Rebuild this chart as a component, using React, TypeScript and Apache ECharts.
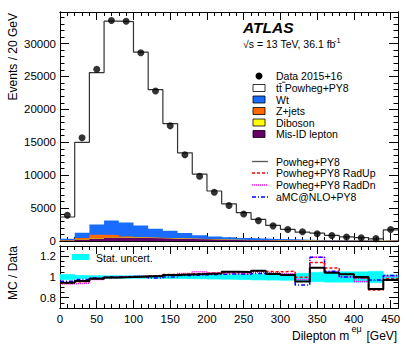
import React, { useEffect, useRef } from "react";
import * as echarts from "echarts";

// ---------- data ----------
const binEdges = [0, 20, 40, 60, 80, 100, 120, 140, 160, 180, 200, 220, 240, 260, 280, 300, 320, 340, 360, 380, 400, 420, 440, 460];
const binCenters = [10, 30, 50, 70, 90, 110, 130, 150, 170, 190, 210, 230, 250, 270, 290, 310, 330, 350, 370, 390, 410, 430, 450];
const dataValues = [3900, 15700, 26100, 33500, 33400, 28600, 22800, 17500, 13100, 9850, 7400, 5400, 4100, 3100, 2300, 1740, 1400, 1100, 830, 620, 500, 360, 1740];
const mcTotal = [3650, 15000, 25600, 33400, 33350, 28700, 23000, 17850, 13400, 10150, 7600, 5650, 4300, 3280, 2370, 1770, 1340, 1200, 860, 640, 500, 320, 1690];
const wtValues = [190, 820, 1540, 2170, 2140, 1800, 1375, 1130, 835, 575, 455, 362, 289, 255, 198, 172, 135, 118, 100, 86, 73, 59, 92];
const zjetsValues = [60, 200, 550, 380, 120, 60, 40, 30, 20, 15, 10, 8, 6, 5, 4, 3, 3, 2, 2, 2, 1, 1, 3];
const dibosonValues = [20, 40, 60, 70, 70, 60, 55, 50, 45, 40, 35, 30, 25, 20, 18, 15, 12, 10, 8, 7, 6, 5, 15];
const misIdValues = [80, 200, 350, 480, 500, 450, 400, 350, 300, 250, 200, 160, 130, 100, 80, 60, 50, 40, 30, 25, 20, 15, 40];

const ratioNominal = [0.945, 0.962, 0.982, 0.996, 1.0, 1.005, 1.01, 1.02, 1.025, 1.03, 1.035, 1.05, 1.048, 1.06, 1.03, 1.02, 0.956, 1.09, 1.04, 1.026, 1.0, 0.885, 0.97];
const ratioRadUp = [0.94, 0.955, 0.985, 0.995, 1.0, 1.005, 1.012, 1.025, 1.03, 1.035, 1.04, 1.045, 1.04, 1.055, 1.05, 1.055, 0.997, 1.14, 1.087, 1.03, 0.99, 0.875, 0.985];
const ratioRadDn = [0.935, 0.94, 0.975, 0.99, 1.0, 1.01, 1.015, 1.02, 1.035, 1.05, 1.04, 1.035, 1.03, 1.045, 1.04, 1.03, 0.975, 1.19, 1.05, 1.0, 0.956, 0.965, 1.01];
const ratioAmc = [0.96, 0.975, 0.99, 1.0, 1.005, 1.0, 0.99, 1.0, 1.015, 1.02, 1.025, 1.03, 1.025, 1.035, 1.03, 1.02, 0.923, 1.19, 1.055, 1.0, 0.99, 0.97, 1.015];
const statUnc = [0.025, 0.015, 0.013, 0.012, 0.012, 0.012, 0.013, 0.014, 0.015, 0.017, 0.02, 0.022, 0.025, 0.028, 0.03, 0.032, 0.036, 0.045, 0.05, 0.05, 0.05, 0.055, 0.02];

const ratioTickValues = [0.8, 1, 1.2];

// ---------- styling ----------
const FONT = "'Liberation Sans', Arial, Helvetica, sans-serif";
const C_WT = "#1a6cff";
const C_Z = "#ff6a00";
const C_DIB = "#ffff00";
const C_MIS = "#660066";
const C_STAT = "#00ffff";

function stepData(vals: number[]) {
  const pts = vals.map((v, i) => [binEdges[i], v]);
  pts.push([binEdges[vals.length], vals[vals.length - 1]]);
  return pts;
}
function addArrays(...arrs: number[][]) {
  return arrs[0].map((_, i) => arrs.reduce((s, a) => s + a[i], 0));
}

function xAx(gridIndex: number, position: string, interval: number, len: number, labels: boolean) {
  return {
    type: "value", gridIndex, position, min: 0, max: 460, interval,
    axisLine: { show: true, onZero: false, lineStyle: { color: "#000", width: 1 } },
    axisTick: { show: true, inside: true, length: len, lineStyle: { color: "#000", width: 1 } },
    axisLabel: { show: labels, color: "#000", fontFamily: FONT, fontSize: 11.5, margin: 5, showMaxLabel: false, formatter: (v: number) => String(v) },
    splitLine: { show: false },
  };
}
function yAx(gridIndex: number, position: string, min: number, max: number, interval: number, len: number, labels: boolean, extra: any = {}) {
  return {
    type: "value", gridIndex, position, min, max, interval,
    axisLine: { show: true, onZero: false, lineStyle: { color: "#000", width: 1 } },
    axisTick: { show: true, inside: true, length: len, lineStyle: { color: "#000", width: 1 }, ...(extra.axisTick || {}) },
    axisLabel: { show: labels, color: "#000", fontFamily: FONT, fontSize: 11.5, margin: 4, showMaxLabel: false, formatter: (v: number) => String(v), ...(extra.axisLabel || {}) },
    splitLine: { show: false },
  };
}

function stepLine(name: string, vals: number[], xi: number, yi: number, color: string, width: number, type: any, z = 3) {
  return {
    name, type: "line", xAxisIndex: xi, yAxisIndex: yi, step: "end", data: stepData(vals),
    symbol: "none", lineStyle: { color, width, type }, z, silent: true,
  };
}
function stepArea(name: string, vals: number[], color: string, z: number) {
  return {
    name, type: "line", xAxisIndex: 0, yAxisIndex: 0, step: "end", data: stepData(vals),
    symbol: "none", lineStyle: { width: 0, color }, areaStyle: { color, opacity: 1 }, z, silent: true,
  };
}

export default function App() {
  const ref = useRef<HTMLDivElement>(null);
  useEffect(() => {
    if (!ref.current) return;
    const chart = echarts.init(ref.current, undefined, { renderer: "svg" });

    const cumMis = misIdValues;
    const cumDib = addArrays(misIdValues, dibosonValues);
    const cumZ = addArrays(misIdValues, dibosonValues, zjetsValues);
    const cumWt = addArrays(misIdValues, dibosonValues, zjetsValues, wtValues);

    const legendRows = [
      { label: "Data 2015+16", kind: "dot", y: 76 },
      { label: "tt\u0304 Powheg+PY8", kind: "box", color: "#ffffff", y: 88 },
      { label: "Wt", kind: "box", color: C_WT, y: 99.5 },
      { label: "Z+jets", kind: "box", color: C_Z, y: 111 },
      { label: "Diboson", kind: "box", color: C_DIB, y: 122.5 },
      { label: "Mis-ID lepton", kind: "box", color: C_MIS, y: 134 },
      { label: "Powheg+PY8", kind: "line", color: "#555", dash: null, y: 161.5 },
      { label: "Powheg+PY8 RadUp", kind: "line", color: "#ff0000", dash: [3, 2], y: 173 },
      { label: "Powheg+PY8 RadDn", kind: "line", color: "#ff00ff", dash: [1, 1], y: 185 },
      { label: "aMC@NLO+PY8", kind: "line", color: "#0000ff", dash: [4, 2, 1, 2], y: 197 },
    ];
    const txt = (x: number, y: number, text: string, size: number, extra: any = {}, align = "left") => ({
      type: "text", x, y, ...(extra.el || {}),
      style: { text, fontFamily: FONT, fontSize: size, fill: "#000", align, verticalAlign: "middle", textAlign: align, textVerticalAlign: "middle", ...(extra.style || {}) },
    });
    const graphics: any[] = [];
    legendRows.forEach((r: any) => {
      if (r.kind === "dot") {
        graphics.push({ type: "circle", shape: { cx: 259, cy: r.y, r: 3.5 }, style: { fill: "#000" } });
      } else if (r.kind === "box") {
        graphics.push({ type: "rect", shape: { x: 253, y: r.y - 3.5, width: 12, height: 7 }, style: { fill: r.color, stroke: "#000", lineWidth: 0.8 } });
      } else {
        graphics.push({ type: "line", shape: { x1: 252, y1: r.y, x2: 268, y2: r.y }, style: { stroke: r.color, lineWidth: 1.3, lineDash: r.dash } });
      }
      graphics.push(txt(276, r.y, r.label, 10.5));
    });
    // bar over the second t of "tt"
    graphics.push({ type: "line", shape: { x1: 282, y1: 82.2, x2: 285.5, y2: 82.2 }, style: { stroke: "#000", lineWidth: 0.8 } });
    // ATLAS label and energy/lumi
    graphics.push(txt(243, 27, "ATLAS", 15.5, { style: { fontWeight: "bold", fontStyle: "italic" } }));
    graphics.push(txt(243, 44, "\u221As = 13 TeV, 36.1 fb", 10.5));
    graphics.push(txt(334, 40, "-1", 7.5));
    // ratio legend
    graphics.push({ type: "rect", shape: { x: 72, y: 254, width: 17, height: 6 }, style: { fill: C_STAT } });
    graphics.push(txt(96, 257.5, "Stat. uncert.", 10.5));
    // axis titles
    graphics.push(txt(13, 13, "Events / 20 GeV", 12, { el: { rotation: Math.PI / 2 } }, "right"));
    graphics.push(txt(13, 273, "MC / Data", 12, { el: { rotation: Math.PI / 2 } }, "center"));
    graphics.push(txt(292, 336, "Dilepton m", 12));
    graphics.push(txt(351.5, 328.5, "e\u03bc", 9));
    graphics.push(txt(366.5, 336, "[GeV]", 12));

    const ratioMajorExtra = {
      axisTick: { customValues: ratioTickValues },
      axisLabel: {
        customValues: ratioTickValues,
        showMinLabel: true,
        showMaxLabel: true,
        formatter: (v: number) => {
          const ok = ratioTickValues.some((t) => Math.abs(t - v) < 1e-6);
          if (!ok) return "";
          return Math.abs(v - 1) < 1e-6 ? "1" : v.toFixed(1);
        },
      },
    };

    const option: any = {
      animation: false,
      backgroundColor: "#fff",
      grid: [
        { left: 60, top: 12, width: 338, height: 229 },
        { left: 60, top: 246, width: 338, height: 62 },
      ],
      xAxis: [
        xAx(0, "bottom", 50, 8, false),
        xAx(0, "bottom", 10, 4, false),
        xAx(0, "top", 50, 8, false),
        xAx(0, "top", 10, 4, false),
        xAx(1, "bottom", 50, 8, true),
        xAx(1, "bottom", 10, 4, false),
        xAx(1, "top", 50, 8, false),
        xAx(1, "top", 10, 4, false),
      ],
      yAxis: [
        yAx(0, "left", 0, 34800, 5000, 9, true),
        yAx(0, "left", 0, 34800, 1000, 4.5, false),
        yAx(0, "right", 0, 34800, 5000, 9, false),
        yAx(0, "right", 0, 34800, 1000, 4.5, false),
        yAx(1, "left", 0.7, 1.3, 0.1, 9, true, ratioMajorExtra),
        yAx(1, "left", 0.7, 1.3, 0.05, 4.5, false),
        yAx(1, "right", 0.7, 1.3, 0.1, 9, false, { axisTick: { customValues: ratioTickValues } }),
        yAx(1, "right", 0.7, 1.3, 0.05, 4.5, false),
      ],
      graphic: graphics,
      series: [
        stepArea("Wt", cumWt, C_WT, 2),
        stepArea("Z+jets", cumZ, C_Z, 2),
        stepArea("Diboson", cumDib, C_DIB, 2),
        stepArea("Mis-ID lepton", cumMis, C_MIS, 2),
        stepLine("Powheg+PY8", mcTotal, 0, 0, "#333", 1.2, "solid", 3),
        {
          name: "Data 2015+16", type: "scatter", xAxisIndex: 0, yAxisIndex: 0,
          data: binCenters.map((c, i) => [c, dataValues[i]]),
          symbol: "circle", symbolSize: 7, itemStyle: { color: "#000" }, z: 5, silent: true,
        },
        // ratio panel: statistical uncertainty band
        {
          name: "Stat. uncert.", type: "custom", xAxisIndex: 4, yAxisIndex: 4, silent: true, z: 2,
          data: statUnc.map((u, i) => [binEdges[i], binEdges[i + 1], 1 - u, 1 + u]),
          encode: { x: [0, 1], y: [2, 3] },
          renderItem: (params: any, api: any) => {
            const p0 = api.coord([api.value(0), api.value(3)]);
            const p1 = api.coord([api.value(1), api.value(2)]);
            return {
              type: "rect",
              shape: { x: p0[0], y: p0[1], width: p1[0] - p0[0], height: p1[1] - p0[1] },
              style: { fill: C_STAT, stroke: C_STAT, lineWidth: 0.6 },
            };
          },
        },
        stepLine("RadDn", ratioRadDn, 4, 4, "#ff00ff", 1.5, [1, 1], 3),
        stepLine("aMC", ratioAmc, 4, 4, "#0000ff", 1.5, [4, 2, 1, 2], 3),
        stepLine("RadUp", ratioRadUp, 4, 4, "#ff0000", 1.5, [3, 2], 3),
        stepLine("Nominal", ratioNominal, 4, 4, "#000", 2, "solid", 4),
      ],
    };
    chart.setOption(option);
    return () => chart.dispose();
  }, []);
  return <div ref={ref} style={{ position: "absolute", left: 0, top: 0, width: 414, height: 353 }} />;
}
